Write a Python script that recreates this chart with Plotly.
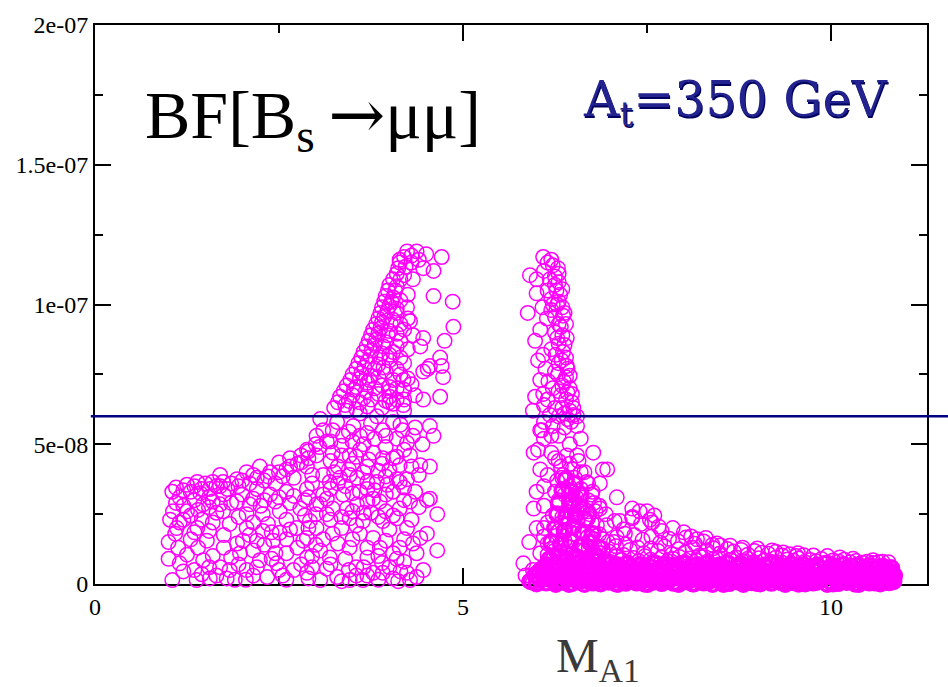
import plotly.graph_objects as go

# ---------------- data (x = M_A1, y in units of 1e-8) ----------------
Y_UNIT = 1e-8

left_lower_x = [1.05,1.25,1.43,1.56,1.74,1.93,2.15,2.38,2.6,2.88, 1.06,1.11,1.09,1.13,1.15,1.05,
                1.25,1.2,1.39,1.52,1.47,1.6,1.7,1.79,1.56,1.38,
                1.74,1.83,1.93,2.01,1.97,1.83,2.06,2.24,2.34,2.47,2.6,2.7,2.88,2.83,2.6,2.42,2.2,2.06,2.28,2.51,2.74,2.92,
                1.47,1.6,1.93,2.15,2.38,2.6,2.88,2.06,2.28,2.51,2.79,3.01, 1.39,1.7,2.06,2.24,
                1.15,1.3,1.5,1.65,1.8,1.95,2.1,2.2,2.3,2.45,2.55,2.7,2.75,2.95,1.35,1.55,1.75,1.85,2.0,2.25,2.45,2.65,2.9,
                1.2,1.3,1.45,1.6,1.65,1.95,2.15,2.35,2.6,2.85,1.3,1.25,1.4,1.35,1.55,1.75,1.85,2.15,2.3,2.45,
                2.15,2.55,2.75,2.95,2.9,1.9,2.05,2.6,3.0,1.0,1.02,1.0,
                1.1,1.2,1.35,1.45,1.6,1.7,1.85,2.0,2.2,2.35,2.5,2.65,2.8,1.1,1.4,1.55,1.7,2.1,2.3,2.5,
                2.7,2.85,1.15,1.35,1.55,1.75,2.1,2.4,2.65,2.9,1.2,1.45,1.65,2.2,2.5,2.8,1.95,2.4]
left_lower_y = [3.3,3.55,3.25,3.4,3.65,3.75,3.9,4.0,4.1,4.2, 2.6,2.0,1.8,1.3,0.74,0.14,
                2.6,2.3,2.0,1.55,0.85,1.0,0.6,0.2,0.2,0.14,
                2.6,2.15,1.45,1.55,1.1,0.5,0.5,0.85,0.25,0.74,1.1,0.5,0.95,1.55,1.6,1.55,1.55,2.0,1.9,1.83,2.0,2.25,
                2.85,2.95,2.95,3.05,3.2,3.3,3.4,2.5,2.5,2.6,2.7,2.85, 3.65,3.9,4.0,4.2,
                3.1,3.3,3.6,3.5,3.4,3.5,3.6,3.4,3.7,3.6,3.85,3.8,4.3,3.9,3.0,3.1,3.2,2.9,3.2,2.8,2.95,2.9,3.1,
                2.8,2.45,2.3,2.2,2.55,2.4,2.2,2.15,2.3,2.45,1.6,1.05,1.3,0.5,0.6,1.3,0.95,1.2,1.4,1.1,
                0.3,0.3,1.3,0.6,0.2,0.15,0.15,0.15,1.4,1.5,2.3,0.9,
                3.45,3.35,3.5,3.4,3.65,3.5,3.6,3.7,3.8,3.85,4.0,4.2,4.35,2.9,2.65,2.75,2.85,2.85,3.0,3.1,
                3.15,3.0,2.2,1.85,1.9,1.75,1.75,1.85,1.95,2.0,0.45,0.35,0.3,0.6,0.5,0.7,0.7,0.9]

left_mid_x = [3.01,3.23,3.37,3.29,3.06,3.51,3.7,3.91,4.1,4.24,4.32,4.18,4.05,3.83,3.6,3.42,4.55,4.6,4.28,4.14,
              4.55,4.42,3.91,3.78,3.6,3.46,3.23,3.01,2.88,
              3.56,3.7,3.83,3.97,4.05,4.14,4.24,4.1,3.46,3.33,3.19,
              3.06,3.23,3.42,3.56,3.7,3.78,3.87,3.37,3.15,
              4.55,4.65,4.51,4.28,4.14,3.91,4.24,4.42,4.65,4.51,4.32,4.14,4.37,4.46,4.28,4.0,3.78,3.7,3.46,3.6,
              3.23,3.06,3.19,3.29,3.06,2.88,3.87,3.78,4.05,3.46,3.64,3.01,2.88,3.91,4.24,4.37,3.46,3.64,
              2.9,3.05,3.15,3.2,3.35,3.5,3.65,3.8,3.95,4.05,4.2,3.1,3.3,3.5,3.7,3.85,4.0,3.2,3.4,3.6,
              3.8,2.95,3.1,3.0,3.2,3.35,3.55,3.75,3.95,4.1,4.0,3.85,4.1,3.55,3.4,3.15,2.95,3.7,4.05,4.15,
              2.5,2.65,2.8,2.9,3.0,
              3.1,3.2,3.45,3.6,3.75,3.95,4.15,4.35,4.45,3.35,3.55,3.72,3.9,4.1,4.3,4.4,3.25,3.45,3.65,3.95,
              4.2,4.35,3.3,3.5,3.7,3.95,4.2,4.4,3.15,3.35,3.5,3.65,3.85,4.05,4.3,3.1,3.3,3.5,3.7,3.95,
              4.2,3.2,3.45,3.65,3.9,4.2,3.35,3.55,3.85,4.12]
left_mid_y = [5.3,5.5,5.3,5.8,5.9,5.65,5.4,5.5,5.2,5.05,5.3,5.5,5.8,6.0,6.1,6.2,5.65,5.3,4.6,4.25,
              4.2,4.25,4.5,4.7,4.8,4.6,4.7,4.6,4.8,
              3.8,3.65,3.65,3.55,3.3,3.65,3.75,3.75,3.9,3.8,3.65,
              2.85,2.7,2.7,2.85,2.95,3.05,2.95,3.2,3.05,
              3.05,2.5,3.0,2.95,2.7,2.25,2.0,1.65,1.2,1.8,1.45,1.3,1.1,0.5,0.14,0.6,0.4,0.95,1.3,1.8,
              1.8,1.2,0.95,0.25,0.14,0.4,1.3,1.65,1.1,2.35,2.25,2.0,1.65,0.4,0.4,0.25,0.14,0.14,
              4.5,4.9,5.1,4.4,4.95,5.1,5.0,5.2,4.9,4.5,4.8,3.9,4.2,4.3,4.2,4.05,4.1,3.4,3.5,3.3,
              3.35,3.6,3.2,2.5,2.3,2.0,2.1,2.55,2.6,2.35,1.95,1.0,0.9,0.6,0.9,0.55,1.0,0.3,0.2,0.45,
              4.35,4.5,4.6,4.75,5.0,
              5.5,5.1,5.45,5.3,5.75,5.3,5.7,5.6,5.0,4.6,4.55,4.45,4.3,4.55,4.2,3.9,4.0,4.1,4.0,3.85,
              3.45,3.3,3.6,3.25,3.4,3.2,3.0,2.75,2.5,2.4,2.6,2.55,2.4,2.45,2.3,1.6,1.45,1.6,1.3,1.55,
              1.6,0.7,0.5,0.6,0.75,0.8,0.1,0.3,0.15,0.1]

left_band_x = [3.25,3.4,3.55,3.7,3.9,4.05,4.2, 3.33,3.5,3.65,3.85,4.0,4.2,4.35, 3.42,3.55,3.7,3.9,4.1,4.3,
               3.5,3.62,3.75,3.95,4.15, 3.58,3.7,3.85,4.0,4.2, 3.65,3.76,3.9,4.05,4.25, 3.72,3.82,3.95,4.15,
               3.78,3.88,4.0,4.2, 3.85,3.93,4.05,4.25, 3.9,4.0,4.1, 3.95,4.05, 4.0,4.1, 4.1,4.2, 4.14,
               4.24,4.37,4.14,4.46,4.6,4.32,4.25,4.71,4.6,4.86,4.87,4.75,4.69,4.52,4.73,4.69,4.3,4.4,4.5,4.32,
               4.46,4.42,4.24,4.28,4.71,4.46,4.55,4.19,4.0,4.46,4.19,4.0,
               3.3,3.45,3.6,3.75,3.95,4.1,3.38,3.52,3.68,3.8,4.0,4.2,3.47,3.6,3.73,3.85,4.05,4.25,3.55,3.66,
               3.8,3.92,4.1,3.62,3.74,3.87,4.0,4.15,3.69,3.8,3.92,4.1,3.75,3.85,3.98,4.1,3.82,3.9,4.02,4.15,
               3.88,3.97,4.1,3.93,4.03,4.15,3.98,4.08,4.05,4.15,4.12,4.22,4.2,4.3]
left_band_y = [6.3,6.4,6.25,6.35,6.3,6.45,6.2, 6.7,6.75,6.65,6.8,6.7,6.6,6.75, 7.1,7.05,7.2,7.1,7.0,7.15,
               7.5,7.55,7.45,7.6,7.5, 7.9,7.95,7.85,8.0,7.9, 8.3,8.35,8.25,8.3,8.4, 8.7,8.75,8.65,8.7,
               9.1,9.15,9.05,9.1, 9.5,9.55,9.45,9.5, 9.9,9.95,9.85, 10.3,10.25, 10.7,10.65, 11.1,11.05, 11.5,
               11.9,11.9,11.6,11.3,11.2,10.9,10.35,11.7,10.3,10.1,9.2,8.7,8.1,7.7,7.4,6.7,11.5,11.6,11.8,8.9,
               8.8,8.5,9.9,9.4,7.8,7.6,7.8,7.3,6.9,6.6,6.4,6.5,
               6.5,6.55,6.5,6.6,6.55,6.6,6.9,6.95,6.9,7.0,7.05,6.95,7.3,7.35,7.3,7.4,7.3,7.35,7.7,7.75,
               7.7,7.75,7.7,8.1,8.15,8.1,8.2,8.1,8.5,8.55,8.5,8.5,8.9,8.95,8.9,8.95,9.3,9.35,9.3,9.3,
               9.7,9.75,9.7,10.1,10.1,10.15,10.5,10.5,10.9,10.9,11.3,11.35,11.7,11.75]

right_band_x = [6.09,5.91,6.0,6.22,6.29,6.25,6.32,6.28,5.88,6.14,6.36,6.41,5.98,6.09,6.36,6.41,6.16,5.98,6.09,6.48,
                6.48,6.5,6.18,6.05,6.22,6.55,6.6,6.77,5.96,6.9,6.0,5.96,7.09,5.82,
                6.25,6.3,6.2,6.35,6.3,6.25,6.35,6.3,6.2,6.4,6.3,6.25,6.4,6.35,6.3,6.45,6.4,6.35,6.45,6.3,
                6.42,6.2,6.15,6.1,6.05,6.12,6.22,6.1,6.25,6.38,
                6.15,6.2,6.3,6.18,6.27,6.35,6.22,6.3,6.38,6.25,6.33,6.4,6.28,6.38,6.26,6.34,6.42,6.29,6.37,6.45,
                6.33,6.42,6.5,6.38,6.47,6.55,6.0,6.08,6.02,6.05,5.95,6.15,6.1,6.2]
right_band_y = [11.7,11.05,10.9,11.4,11.3,10.7,10.35,10.0,9.7,9.5,9.6,8.8,8.7,8.2,8.3,7.8,7.25,6.7,6.8,6.8,
                6.5,6.05,6.05,5.5,5.65,5.65,5.2,4.7,4.7,4.1,3.3,2.7,3.1,0.74,
                11.0,10.8,10.2,9.9,9.3,9.0,8.9,8.6,8.4,8.1,7.9,7.6,7.4,7.1,6.9,7.0,6.6,6.3,6.2,6.0,
                5.9,9.8,10.5,11.2,9.1,7.7,7.0,6.4,6.3,5.6,
                11.5,11.6,11.1,10.9,10.5,10.55,10.0,10.1,9.7,9.55,9.2,9.3,8.8,8.55,8.2,8.0,7.7,7.5,7.25,7.45,
                6.75,6.85,6.3,6.1,5.8,6.0,10.4,9.9,8.0,7.3,6.2,6.6,5.8,5.3]

right_spread_x = [6.1,6.3,6.45,6.55,6.2,6.05,6.02,6.07,6.3,6.45,6.6,6.15,6.35,6.5,6.7,6.86,6.1,6.25,6.45,6.6,
                  6.75,6.1,6.3,6.5,6.7,6.96,6.85,7.3,7.4,7.13,6.05,6.0,6.15,6.35,6.55,6.75,6.95,5.9,6.1,6.3,
                  6.5,6.7,6.9,5.85,5.95,6.05,6.15,6.25,6.45,6.65,6.85,7.05,7.2,5.9,5.95,6.0,
                  7.5,7.57,7.85,8.18,8.3,8.63,9.0,9.35,9.76,10.12,10.57,10.78,7.6,7.3,7.7,8.0,8.45,8.8,9.2,9.55,
                  9.95,10.3,10.7,8.1,
                  6.25,6.33,6.41,6.49,6.57,6.65,6.28,6.36,6.44,6.52,6.6,6.68,6.76,6.3,6.38,6.46,6.54,6.62,6.7,6.78,
                  6.86,6.4,6.48,6.56,6.64,6.72,6.8]
right_spread_y = [5.2,5.3,5.0,4.6,4.7,4.1,4.8,5.5,4.4,4.3,4.0,3.9,3.8,3.6,3.6,3.6,3.5,3.3,3.2,3.1,
                  3.2,2.8,2.9,2.7,2.6,4.1,2.8,2.7,2.6,2.25,1.1,2.0,2.2,2.4,2.3,2.2,2.1,1.5,1.7,1.9,
                  1.8,1.7,1.6,0.3,0.5,0.2,0.6,1.2,1.3,1.2,1.1,1.5,1.8,0.1,0.05,0.35,
                  2.6,2.2,2.0,1.6,1.65,1.37,1.27,1.13,1.02,0.95,0.85,0.78,2.45,2.35,1.9,1.85,1.45,1.3,1.2,1.1,
                  1.0,0.9,0.8,1.7,
                  4.5,4.2,4.6,4.1,4.4,4.0,3.7,3.9,3.5,3.8,3.4,3.65,3.3,3.0,3.2,2.85,3.1,2.75,3.0,2.9,
                  2.7,2.6,2.75,2.55,2.7,2.5,2.6]

# densely packed core of the right-hand tail (drawn with a heavier ring stroke)
core_x = [6.18,6.3,6.42,6.55,6.68,6.8,6.92, 6.2,6.33,6.46,6.6,6.72,6.85, 6.25,6.38,6.5,6.63,6.76,
          6.28,6.4,6.53,6.66, 6.3,6.45,6.58, 6.35,6.48,6.6, 6.4,6.52]
core_y = [0.9,1.0,0.85,0.95,0.9,1.0,0.8, 1.5,1.4,1.55,1.35,1.5,1.3, 2.0,1.9,2.05,1.85,1.8,
          2.5,2.4,2.45,2.3, 2.9,2.95,2.8, 3.35,3.3,3.2, 3.75,3.6]

tail_a_x = [5.92,6.0,6.05,6.13,6.18,6.26,6.3,6.37,6.41,6.48,6.54,6.57,6.65,6.7,6.74,6.81,6.87,6.91,6.98,7.02,
            7.1,7.13,7.21,7.25,7.32,7.36,7.44,7.47,7.55,7.59,7.67,7.7,7.78,7.82,7.89,7.93,8.01,8.05,8.12,8.16,
            8.24,8.27,8.35,8.39,8.47,8.5,8.58,8.62,8.69,8.73,8.81,8.85,8.92,8.96,9.04,9.07,9.15,9.19,9.27,9.3,
            9.38,9.42,9.49,9.53,9.61,9.65,9.72,9.76,9.84,9.87,9.95,9.99,10.07,10.1,10.18,10.22,10.29,10.33,10.41,10.45,
            10.52,10.56,10.64,10.67,10.75,10.79,10.85]
tail_a_y = [0.1,0.02,0.15,0.05,0.18,0.0,0.12,0.07,0.2,0.03,0.14,0.09,0.0,0.17,0.06,0.11,0.02,0.19,0.08,0.13,
            0.0,0.16,0.04,0.1,0.2,0.05,0.12,0.01,0.17,0.08,0.14,0.03,0.1,0.19,0.06,0.0,0.15,0.09,0.02,0.18,
            0.11,0.05,0.13,0.0,0.16,0.07,0.2,0.03,0.12,0.09,0.0,0.15,0.06,0.18,0.02,0.11,0.14,0.04,0.19,0.08,
            0.0,0.13,0.06,0.17,0.1,0.02,0.15,0.05,0.12,0.19,0.0,0.09,0.16,0.03,0.13,0.07,0.18,0.01,0.11,0.15,
            0.05,0.09,0.17,0.02,0.12,0.06,0.1]

tail_a2_x = [6.2,6.28,6.34,6.44,6.5,6.6,6.67,6.77,6.84,6.94,7.0,7.07,7.16,7.23,7.29,7.39,7.42,7.51,7.57,7.64,
             7.74,7.8,7.86,7.91,7.98,8.03,8.09,8.14,8.2,8.29,8.33,8.43,8.49,8.54,8.6,8.66,8.76,8.79,8.88,8.94,
             9.0,9.1,9.12,9.22,9.25,9.34,9.4,9.45,9.56,9.58,9.68,9.7,9.8,9.9,9.92,10.03,10.05,10.14,10.2,10.26,
             10.31,10.38,10.43,10.48,10.54,10.6,10.7,10.72,10.82]
tail_a2_y = [0.22,0.08,0.3,0.0,0.25,0.12,0.35,0.05,0.28,0.1,0.38,0.03,0.24,0.15,0.33,0.07,0.27,0.0,0.2,0.36,
             0.1,0.29,0.04,0.23,0.34,0.13,0.26,0.02,0.31,0.18,0.08,0.37,0.21,0.0,0.32,0.14,0.25,0.06,0.35,0.19,
             0.03,0.28,0.11,0.38,0.22,0.05,0.3,0.16,0.01,0.27,0.12,0.36,0.07,0.24,0.33,0.02,0.2,0.3,0.09,0.25,
             0.15,0.0,0.34,0.1,0.22,0.05,0.28,0.13,0.18]

tail_b_x = [5.98,6.04,6.1,6.15,6.22,6.28,6.33,6.39,6.44,6.5,6.56,6.61,6.67,6.72,6.78,6.84,6.89,6.95,7.0,7.07,
            7.12,7.18,7.23,7.29,7.35,7.4,7.46,7.51,7.57,7.63,7.69,7.74,7.8,7.85,7.91,7.97,8.03,8.08,8.14,8.2,
            8.25,8.31,8.37,8.42,8.48,8.54,8.6,8.65,8.71,8.77,8.83,8.88,8.94,9.0,9.05,9.11,9.17,9.23,9.28,9.34,
            9.4,9.45,9.51,9.57,9.63,9.68,9.74,9.8,9.86,9.91,9.97,10.03,10.09,10.14,10.2,10.26,10.31,10.37,10.43,10.49,
            10.54,10.6,10.66,10.71,10.77,10.82,10.86]
tail_b_y = [0.32,0.45,0.27,0.4,0.3,0.48,0.35,0.26,0.42,0.37,0.29,0.46,0.33,0.41,0.25,0.38,0.47,0.3,0.43,0.28,
            0.36,0.49,0.31,0.4,0.26,0.44,0.34,0.39,0.28,0.47,0.32,0.42,0.25,0.37,0.45,0.3,0.4,0.27,0.48,0.35,
            0.29,0.43,0.33,0.46,0.26,0.38,0.31,0.44,0.36,0.28,0.41,0.49,0.3,0.39,0.25,0.45,0.34,0.42,0.29,0.37,
            0.47,0.32,0.27,0.43,0.35,0.4,0.26,0.46,0.31,0.38,0.44,0.28,0.36,0.42,0.3,0.48,0.33,0.27,0.4,0.45,
            0.29,0.37,0.32,0.43,0.26,0.35,0.3]

tail_b2_x = [6.12,6.24,6.35,6.47,6.58,6.69,6.8,6.92,7.03,7.15,7.26,7.38,7.49,7.61,7.72,7.83,7.95,8.06,8.18,8.29,
             8.4,8.52,8.63,8.75,8.86,8.97,9.09,9.2,9.32,9.43,9.54,9.66,9.77,9.89,10.0,10.11,10.23,10.34,10.46,10.57,
             10.68,10.8]
tail_b2_y = [0.42,0.55,0.35,0.6,0.47,0.38,0.58,0.44,0.52,0.33,0.57,0.4,0.5,0.36,0.59,0.45,0.54,0.39,0.48,0.56,
             0.34,0.51,0.43,0.58,0.37,0.53,0.46,0.41,0.55,0.35,0.49,0.44,0.57,0.38,0.5,0.42,0.54,0.36,0.47,0.52,
             0.4,0.45]

tail_c_x = [6.08,6.14,6.2,6.27,6.32,6.38,6.45,6.5,6.57,6.62,6.68,6.75,6.8,6.86,6.93,6.98,7.04,7.11,7.16,7.22,
            7.29,7.34,7.4,7.47,7.52,7.58,7.65,7.7,7.76,7.83,7.88,7.94,8.01,8.06,8.12,8.19,8.24,8.3,8.37,8.42,
            8.48,8.55,8.6,8.66,8.73,8.78,8.84,8.91,8.96,9.02,9.09,9.14,9.2,9.27,9.32,9.38,9.45,9.5,9.56,9.63,
            9.68,9.74,9.81,9.86,9.92,9.99,10.04,10.1,10.17,10.22,10.28,10.35,10.4,10.46,10.53,10.58,10.64,10.71,10.76,10.82]
tail_c_y = [0.55,0.68,0.52,0.72,0.6,0.5,0.66,0.58,0.74,0.53,0.63,0.7,0.56,0.65,0.51,0.73,0.59,0.67,0.54,0.71,
            0.62,0.5,0.69,0.57,0.64,0.75,0.52,0.61,0.7,0.55,0.66,0.58,0.73,0.5,0.63,0.68,0.56,0.72,0.6,0.53,
            0.67,0.59,0.74,0.51,0.64,0.7,0.57,0.62,0.69,0.54,0.66,0.6,0.72,0.52,0.65,0.58,0.7,0.55,0.63,0.68,
            0.5,0.61,0.67,0.56,0.73,0.59,0.64,0.53,0.69,0.57,0.62,0.66,0.51,0.6,0.65,0.55,0.58,0.62,0.52,0.57]

tail_d_x = [6.15,6.23,6.3,6.39,6.46,6.54,6.62,6.7,6.77,6.85,6.93,7.01,7.08,7.16,7.24,7.32,7.39,7.47,7.55,7.63,
            7.7,7.78,7.86,7.94,8.01,8.09,8.17,8.25,8.32,8.4,8.48,8.56,8.63,8.71,8.79,8.87,8.94,9.02,9.1,9.18,
            9.25,9.33,9.41,9.49,9.56,9.64,9.72,9.8,9.87,9.95,10.03,10.11,10.18,10.26,10.34,10.42,10.49,10.57,10.65]
tail_d_y = [0.85,0.96,0.78,0.92,0.8,1.0,0.88,0.76,0.95,0.83,0.9,0.79,0.98,0.86,0.77,0.93,0.82,0.99,0.87,0.75,
            0.94,0.81,0.89,0.97,0.78,0.91,0.84,0.96,0.8,0.88,0.93,0.76,0.86,0.95,0.82,0.9,0.78,0.92,0.85,0.8,
            0.94,0.77,0.88,0.83,0.91,0.79,0.86,0.81,0.89,0.76,0.84,0.8,0.87,0.78,0.82,0.76,0.8,0.75,0.78]

tail_e_x = [6.15,6.24,6.33,6.43,6.52,6.61,6.71,6.8,6.9,6.99,7.08,7.18,7.27,7.37,7.46,7.55,7.65,7.74,7.84,7.93,
            8.02,8.12,8.21,8.31,8.4,8.49,8.59,8.68,8.78,8.87,8.96,9.06,9.15,9.25,9.34,9.44,9.53,9.63]
tail_e_y = [1.05,1.28,1.12,1.33,1.02,1.2,1.3,1.08,1.25,1.15,1.35,1.04,1.22,1.31,1.1,1.27,1.18,1.34,1.06,1.24,
            1.14,1.3,1.01,1.2,1.28,1.09,1.25,1.16,1.22,1.05,1.18,1.12,1.08,1.15,1.02,1.06,1.0,1.03]

tail_f_x = [6.15,6.26,6.38,6.5,6.62,6.74,6.85,6.97,7.09,7.21,7.33,7.44,7.56,7.68,7.8,7.92,8.03,8.15,8.27,8.39,8.5]
tail_f_y = [1.45,1.72,1.55,1.8,1.4,1.65,1.78,1.5,1.68,1.42,1.75,1.58,1.7,1.48,1.62,1.53,1.66,1.44,1.52,1.4,1.38]

tail_g_x = [6.1,6.22,6.34,6.46,6.58,6.7,6.82,6.94,7.06,7.18,7.3,7.42,7.54,7.66]
tail_g_y = [2.0,2.45,2.2,2.55,1.9,2.35,2.1,2.5,2.25,1.95,2.4,2.15,2.3,2.05]

limit_value = 6e-8          # horizontal reference line
x_tickvals = [0, 5, 10]
x_ticktext = ["0", "5", "10"]
y_tickvals = [0, 5e-8, 1e-7, 1.5e-7, 2e-7]
y_ticktext = ["0", "5e-08", "1e-07", "1.5e-07", "2e-07"]

# ---------------- assemble ----------------
def collect(groups):
    xs, ys = [], []
    for gx, gy in groups:
        for a, b in zip(gx, gy):
            xs.append(a)
            ys.append(b * Y_UNIT)
    return xs, ys

sparse_x, sparse_y = collect([(left_lower_x, left_lower_y), (left_mid_x, left_mid_y), (left_band_x, left_band_y),
                              (right_band_x, right_band_y), (right_spread_x, right_spread_y),
                              (tail_d_x, tail_d_y), (tail_e_x, tail_e_y), (tail_f_x, tail_f_y),
                              (tail_g_x, tail_g_y)])
dense_x, dense_y = collect([(core_x, core_y), (tail_a_x, tail_a_y), (tail_a2_x, tail_a2_y),
                            (tail_b_x, tail_b_y), (tail_b2_x, tail_b2_y), (tail_c_x, tail_c_y)])

SERIF = "Liberation Serif, Times New Roman, serif"
WIDE_SERIF = "DejaVu Serif, serif"
MAGENTA = "#ff00ff"

fig = go.Figure()
fig.add_trace(go.Scatter(
    x=dense_x, y=dense_y, mode="markers", cliponaxis=False, showlegend=False,
    marker=dict(symbol="circle-open", size=14.5, color=MAGENTA, line=dict(width=3.4)),
))
fig.add_trace(go.Scatter(
    x=sparse_x, y=sparse_y, mode="markers", cliponaxis=False, showlegend=False,
    marker=dict(symbol="circle-open", size=14.5, color=MAGENTA, line=dict(width=1.5)),
))

axis_common = dict(
    showline=True, linecolor="black", linewidth=2, mirror="ticks",
    ticks="inside", ticklen=16, tickwidth=1.5, tickcolor="black",
    showgrid=False, zeroline=False, layer="below traces",
    tickfont=dict(family=SERIF, size=24, color="black"),
)

fig.update_xaxes(range=[0, 11.305], tickvals=x_tickvals, ticktext=x_ticktext,
                 minor=dict(ticks="inside", ticklen=8, tickwidth=1.5, tickcolor="black", dtick=2.5, tick0=0),
                 **axis_common)
fig.update_yaxes(range=[0, 2e-7], tickvals=y_tickvals, ticktext=y_ticktext,
                 minor=dict(ticks="inside", ticklen=8, tickwidth=1.5, tickcolor="black", dtick=2.5e-8, tick0=0),
                 **axis_common)

fig.add_shape(type="line", xref="paper", yref="y", x0=-0.005, x1=1.1,
              y0=limit_value, y1=limit_value, line=dict(color="#000080", width=2.5), layer="above")

fig.add_annotation(
    text="BF[B<sub>s</sub>\u2009<span style=\"font-family:'DejaVu Serif'\">\u2192</span>\u03bc\u03bc]",
    xref="paper", yref="paper", x=0.058, y=0.832, xanchor="left", yanchor="middle", showarrow=False,
    font=dict(family=SERIF, size=68, color="black"))

for dx, dy, col in [(1.5, -1.5, "#000060"), (0, 0, "#23238f")]:
    fig.add_annotation(text="A<sub>t</sub>=350 GeV", xref="paper", yref="paper",
                       x=0.584, y=0.861, xanchor="left", yanchor="middle", showarrow=False,
                       xshift=dx, yshift=dy,
                       font=dict(family=WIDE_SERIF, size=49, color=col))

fig.add_annotation(text="M<sub>A1</sub>", xref="paper", yref="paper",
                   x=0.552, y=-0.135, xanchor="left", yanchor="middle", showarrow=False,
                   font=dict(family=SERIF, size=48, color="#3a3a3a"))

fig.update_layout(
    width=948, height=687,
    margin=dict(l=95, r=21, t=16, b=103),
    paper_bgcolor="white", plot_bgcolor="white",
)

fig.write_html("out.html")
